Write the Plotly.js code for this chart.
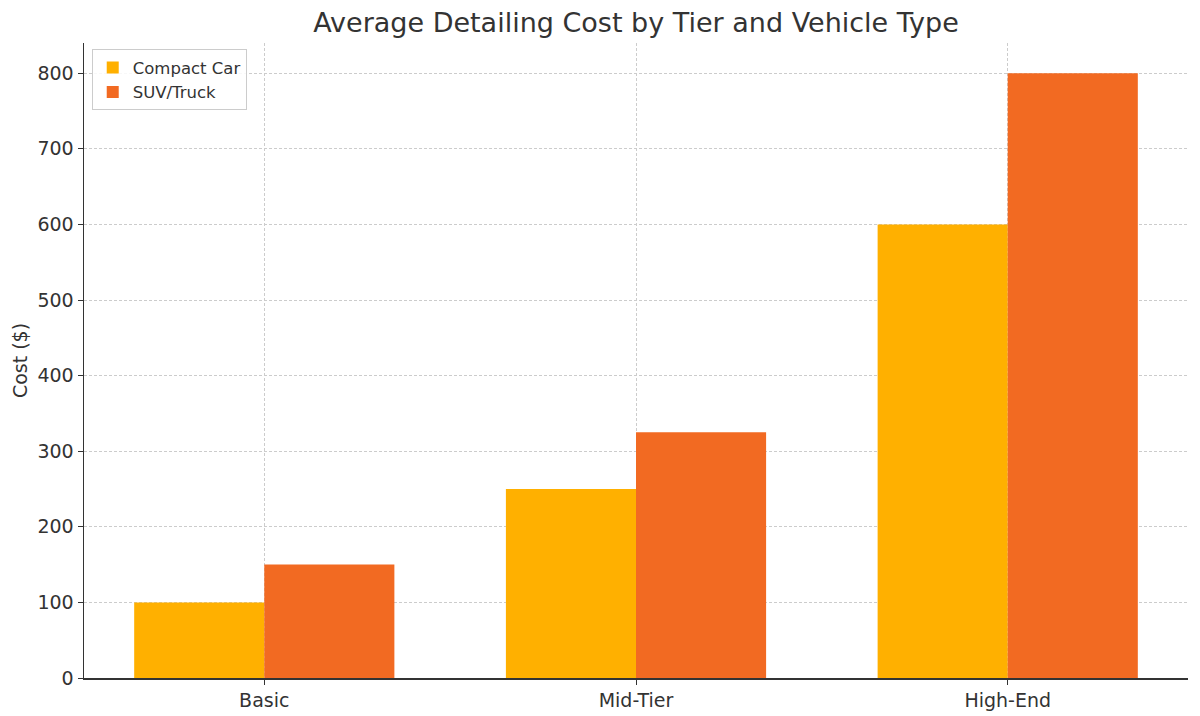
<!DOCTYPE html>
<html>
<head>
<meta charset="utf-8">
<script src="https://cdn.plot.ly/plotly-3.0.1.min.js"></script>
<style>body{margin:0;padding:0;background:#fff;}</style>
</head>
<body>
<div id="chart" style="width:1200px;height:716px;"></div>
<script>
const tiers = ["Basic", "Mid-Tier", "High-End"];
const compactCar = [100, 250, 600];
const suvTruck = [150, 325, 800];
const seriesNames = ["Compact Car", "SUV/Truck"];

const xIdx = tiers.map((_, i) => i);
const w = 0.35;

const traces = [
  {
    type: "bar",
    name: seriesNames[0],
    x: xIdx.map(i => i - w / 2),
    y: compactCar,
    width: w,
    marker: {color: "#FFB000", line: {width: 0}},
    hoverinfo: "y+name"
  },
  {
    type: "bar",
    name: seriesNames[1],
    x: xIdx.map(i => i + w / 2),
    y: suvTruck,
    width: w,
    marker: {color: "#F26A22", line: {width: 0}},
    hoverinfo: "y+name"
  }
];

const layout = {
  width: 1200,
  height: 716,
  margin: {l: 84, r: 12, t: 43, b: 38},
  paper_bgcolor: "#ffffff",
  plot_bgcolor: "#ffffff",
  font: {family: "'DejaVu Sans', sans-serif", color: "#333333", size: 19},
  title: {text: "Average Detailing Cost by Tier and Vehicle Type", x: 0.53, xanchor: "center", yref: "container", y: 0.968, yanchor: "middle", font: {size: 27, color: "#333333"}},
  barmode: "overlay",
  showlegend: true,
  legend: {
    x: 0.007, y: 0.99, xanchor: "left", yanchor: "top",
    bgcolor: "rgba(255,255,255,0.85)", bordercolor: "#cccccc", borderwidth: 1,
    font: {size: 16.5, color: "#333333"}, tracegroupgap: 0
  },
  xaxis: {
    range: [-0.485, 2.485],
    tickmode: "array",
    tickvals: xIdx,
    ticktext: tiers,
    showgrid: true,
    gridcolor: "#cccccc",
    griddash: "3px,2px",
    gridwidth: 1,
    showline: true,
    linecolor: "#333333",
    linewidth: 1.5,
    ticks: "outside",
    ticklen: 5,
    tickcolor: "#333333",
    zeroline: false,
    layer: "above traces",
    tickfont: {size: 19, color: "#333333"}
  },
  yaxis: {
    range: [0, 840],
    tickmode: "linear",
    tick0: 0,
    dtick: 100,
    showgrid: true,
    gridcolor: "#cccccc",
    griddash: "3px,2px",
    gridwidth: 1,
    showline: true,
    linecolor: "#333333",
    linewidth: 1.5,
    ticks: "outside",
    ticklen: 5,
    tickcolor: "#333333",
    zeroline: false,
    layer: "above traces",
    title: {text: "Cost ($)", font: {size: 19, color: "#333333"}, standoff: 5},
    tickfont: {size: 19, color: "#333333"}
  }
};

Plotly.newPlot("chart", traces, layout, {displayModeBar: false, staticPlot: true});
</script>
</body>
</html>
